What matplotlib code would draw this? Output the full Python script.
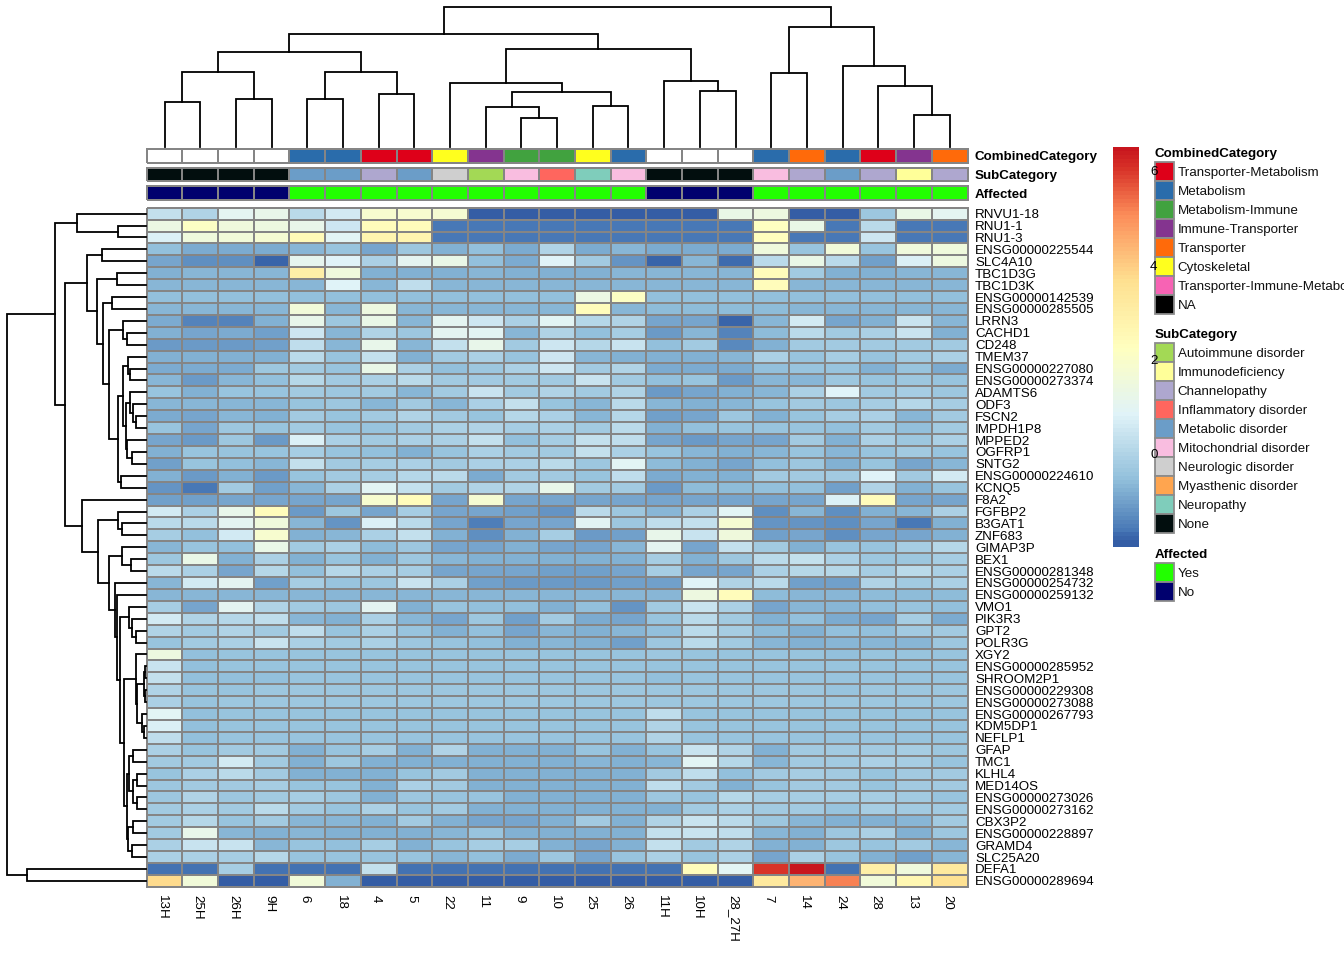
#!/usr/bin/env python

import numpy as np
import matplotlib
matplotlib.use("Agg")
import matplotlib.pyplot as plt
from matplotlib.colors import LinearSegmentedColormap, ListedColormap, Normalize
from matplotlib.patches import Rectangle

plt.rcParams["font.family"] = ["Liberation Sans", "DejaVu Sans"]

col_labels = ["13H", "25H", "26H", "9H", "6", "18", "4", "5", "22", "11", "9", "10",
              "25", "26", "11H", "10H", "28_27H", "7", "14", "24", "28", "13", "20"]

row_labels = ["RNVU1-18", "RNU1-1", "RNU1-3", "ENSG00000225544", "SLC4A10", "TBC1D3G", "TBC1D3K",
              "ENSG00000142539", "ENSG00000285505", "LRRN3", "CACHD1", "CD248", "TMEM37",
              "ENSG00000227080", "ENSG00000273374", "ADAMTS6", "ODF3", "FSCN2", "IMPDH1P8", "MPPED2",
              "OGFRP1", "SNTG2", "ENSG00000224610", "KCNQ5", "F8A2", "FGFBP2", "B3GAT1", "ZNF683",
              "GIMAP3P", "BEX1", "ENSG00000281348", "ENSG00000254732", "ENSG00000259132", "VMO1",
              "PIK3R3", "GPT2", "POLR3G", "XGY2", "ENSG00000285952", "SHROOM2P1", "ENSG00000229308",
              "ENSG00000273088", "ENSG00000267793", "KDM5DP1", "NEFLP1", "GFAP", "TMC1", "KLHL4",
              "MED14OS", "ENSG00000273026", "ENSG00000273162", "CBX3P2", "ENSG00000228897", "GRAMD4",
              "SLC25A20", "DEFA1", "ENSG00000289694"]

# z scores, one row per gene
expr = [
    [.3, 0, 1, 1.2, .15, .6, 1.9, 1.9, 1.8, -1.95, -1.95, -1.95, -1.95, -1.95, -1.95, -1.95, 1.3, 1.4, -1.95, -1.95, -.35, 1.3, 1],
    [1.35, 2.1, 1.55, 1.4, 1.2, .5, 2.4, 2.4, -1.65, -1.65, -1.65, -1.65, -1.65, -1.65, -1.65, -1.65, -1.65, 2.2, 1.3, -1.65, .2, -1.65, -1.65],
    [.8, 1.5, 1.6, 1.75, 2.5, .9, 2.7, 2.7, -1.6, -1.6, -1.6, -1.6, -1.6, -1.6, -1.6, -1.6, -1.6, 2.3, -1.6, -1.6, .5, -1.6, -1.6],
    [-.55, -.85, -.85, -.85, -.65, -.45, -.9, -.35, -.8, -.5, -.85, 0, -.85, -.7, -.85, -.85, -.85, 1.5, -.45, 1.6, -.4, 1.5, 1.5],
    [-.95, -1.3, -1.3, -1.9, 1.1, .85, -.1, 1, 1.3, -.5, -.85, .85, -.25, -1.2, -1.85, -.7, -1.8, .2, 1.25, .2, -1, .8, 1.45],
    [-.75, -.72, -.72, -.72, 3, 1.5, -.75, -.75, -.75, -.72, -.75, -.75, -.75, -.72, -.72, -.72, -.72, 2.35, -.25, -.75, -.75, -.72, -.72],
    [-.65, -.65, -.65, -.65, -.65, .85, -.7, .25, -.65, -.65, -.65, -.65, -.65, -.65, -.65, -.65, -.65, 2.35, -.65, -.65, -.65, -.65, -.65],
    [-.55, -.55, -.55, -.55, -.55, -.55, -.55, -.55, -.55, -.55, -.55, -.55, 1.35, 2.15, -.55, -.55, -.55, -.55, -.55, -.55, -.55, -.55, -.55],
    [-.65, -.65, -.65, -.65, 1.65, -.65, 1.4, -.65, -.65, -.65, -.65, -.65, 2.35, -.65, -.6, -.6, -.6, -.6, -.65, -.65, -.65, -.65, -.65],
    [-.85, -1.45, -1.45, -.8, 1.2, -.35, 1.3, -.72, 1.05, .5, -.1, .95, .05, -.03, -.9, -.9, -1.85, -.72, .6, -.9, -.75, .45, -.65],
    [-.8, -.9, -.82, -1, .5, -.72, 0, -.35, 1, .95, -.65, -.03, -.55, -.15, -1.1, -.72, -1.45, -.6, .2, -.25, -.1, .45, -.75],
    [-1.1, -1.15, -1.1, -1, .25, -.65, 1.15, -.72, .3, 1.15, -.3, .5, .1, .4, -.55, -.3, -1.35, -.8, -.25, -.25, -.22, -.3, -.3],
    [-.8, -.8, -.75, -.75, .2, -.45, .35, -.75, -.3, -.1, -.45, .5, -.72, -.75, -.75, -.75, -.72, -.1, -.45, -.2, -.45, -.22, -.1],
    [-.82, -.85, -.85, -.35, -.25, -.45, 1.25, -.05, -.55, -.35, -.1, .5, -.3, -.02, -.85, -.85, -.85, -.55, -.45, -.45, -.75, -.45, -.85],
    [-.72, -1.15, -.65, -.55, .05, -.3, -.05, .2, -.25, -.25, -.25, -.22, .4, -.22, -.55, -.4, -1.15, -.65, -.7, -.35, -.45, -.35, -.45],
    [-.42, -.8, -.42, -.4, -.3, -.35, -.28, -.65, -.28, .4, -.25, 0, -.3, 0, -1.1, -.95, -.8, -.65, -.1, .85, -.25, -.18, -.35],
    [-.65, -.65, -.65, -.65, -.45, -.35, -.65, -.22, -.65, -.1, .3, -.45, -.65, .2, -.65, -.8, -.65, -.4, -.3, -.35, -.15, .1, -.2],
    [-.82, -.9, -.65, -.75, -.22, -.45, -.22, 0, -.22, -.4, .1, -.1, -.65, .12, -1.05, -.9, -.35, -.75, -.45, -.2, -.1, -.7, -.3],
    [-.45, -.9, -.35, -.45, -.3, -.45, -.45, -.3, -.05, 0, -.15, -.08, -.22, .18, -.8, -.55, -.4, -.45, -.45, -.5, -.25, -.55, -.3],
    [-.9, -1.15, -.35, -1.15, .8, -.1, -.3, -.05, -.05, .35, -.55, -.2, .3, .28, -.9, -1.15, -.95, -.9, -.22, -.75, -.1, -.35, -.1],
    [-.8, -.45, -.45, -.45, -.15, -.45, -.55, -.75, -.45, -.08, -.22, -.22, .32, -.05, -.45, -.7, -.75, -.65, -.45, -.7, -.45, -.22, -.45],
    [-1, -.45, -.55, -.65, .3, -.3, -.15, -.05, -.3, -.05, -.05, .2, -.35, .9, -.6, -.75, -.9, -.55, -.35, -.75, -.45, -.9, -.65],
    [-.75, -1.15, -.75, -1.15, -.4, -.25, -.15, .1, .15, -.82, -.25, -.25, -.45, .25, -.82, -.75, -.75, -.28, -.28, -.25, .85, -.22, .55],
    [-1.2, -1.65, -.28, -1.05, -.65, -.05, .9, .3, -.22, 0, 0, 1.2, -.28, -.25, -1.15, -.6, -.6, -.55, -.55, -1.05, 0, -.8, -.4],
    [-1, -1, -.95, -.95, -.95, -.95, 1.9, 2.35, -.95, 1.75, -.95, -.9, -.9, -.9, -.9, -.9, -.9, -.9, -.9, .8, 2.35, -.9, -.9],
    [.6, -.05, 1.2, 2.35, -1.15, -.35, -.95, -.15, -.9, -.9, -1.05, -1.2, .2, -.35, -.65, -.08, .9, -1.25, -.7, -1.25, -.75, -.65, -.05],
    [.2, .2, 1, 1.5, -.7, -1.2, .8, .15, -.9, -1.55, -.95, -.95, .95, -.35, .25, .3, 1.75, -1.2, -1.2, -1.3, -.95, -1.65, -.75],
    [-.15, -.55, .6, 1.9, -.75, -.65, -.05, .3, -.75, -1.3, -.8, -.15, -1.15, -1, 1.15, .4, 1.5, -1.05, -.95, -1.25, -.9, -.95, -.75],
    [-.65, -.45, -.55, 1.3, -.3, -.05, -.6, -.35, -.9, -.9, -.8, -.9, -.9, -.65, 1, -.9, .3, -.3, -.75, -.45, -.45, -.15, .05],
    [-.35, 1.25, -.75, -.1, -.75, -.45, -.75, -.35, -.65, -.75, -.75, -.75, -.75, -.75, -.15, -.75, -.35, .2, .3, -.05, -.35, -.35, -.15],
    [.2, -.05, -.95, .1, -.5, .1, -.1, -.2, -.95, -.95, -.95, -1, -1, -.95, -.15, -.95, -.9, -.05, .1, .05, -.15, .2, -.05],
    [-.65, .6, 1, -1.05, -.2, -.4, -.35, .4, -.1, -1.05, -1.15, -1.15, -1.15, -1.05, -1.05, .85, 0, .15, -1.05, -1.05, 0, -.3, -.05],
    [-.72, -.72, -.72, -.72, -.72, -.72, -.72, -.72, -.72, -.65, -.65, -.65, -.65, -.65, -.65, 1.4, 2.35, -.6, -.65, -.65, -.6, -.6, -.6],
    [-.15, -.9, 1.05, 0, -.3, -.35, 1, -.75, -.45, -.5, -.5, -.75, -.55, -1.2, -.22, .4, -.05, -.9, -.7, -.7, -.5, -.4, -.5],
    [.6, 0, .05, .25, -.7, -.75, -.05, -.7, -.95, -.35, -1.05, -.28, -.82, -.9, -.4, .15, -.3, -.8, -.55, -.82, -.95, -.15, -.82],
    [0, -.25, 0, -.3, .22, -.45, -.05, -.45, -.8, -.5, -.9, -.7, -.75, -.7, -.55, .2, -.15, -.6, -.75, -.55, -.55, -.28, -.28],
    [-.45, -.3, -.08, .4, -.05, -.22, -.1, -.35, -.45, -.5, -.75, -.65, -.75, -1, -.35, .2, -.22, -.65, -.8, -.65, -.65, -.65, -.35],
    [1.45, -.5, -.45, -.45, -.45, -.45, -.45, -.45, -.45, -.45, -.45, -.45, -.45, -.45, -.35, -.45, -.45, -.45, -.45, -.5, -.45, -.45, -.45],
    [.45, -.5, -.45, -.4, -.4, -.4, -.45, -.4, -.4, -.4, -.4, -.4, -.4, -.4, -.45, -.45, -.45, -.45, -.4, -.45, -.4, -.4, -.4],
    [.32, -.55, -.5, -.5, -.45, -.45, -.45, -.45, -.45, -.45, -.45, -.45, -.45, -.45, -.5, -.45, -.45, -.45, -.45, -.45, -.45, -.45, -.45],
    [-.03, -.42, -.42, -.38, -.38, -.38, -.38, -.38, -.38, -.38, -.38, -.38, -.38, -.38, -.38, -.38, -.38, -.38, -.38, -.42, -.38, -.38, -.38],
    [-.05, -.42, -.38, -.35, -.35, -.35, -.35, -.35, -.35, -.35, -.35, -.35, -.35, -.35, -.35, -.35, -.35, -.35, -.35, -.38, -.35, -.35, -.35],
    [.9, -.5, -.42, -.42, -.42, -.42, -.42, -.42, -.42, -.42, -.42, -.42, -.42, -.42, .22, -.42, -.42, -.42, -.42, -.42, -.42, -.42, -.42],
    [.8, -.52, -.45, -.45, -.45, -.45, -.45, -.45, -.45, -.45, -.45, -.45, -.45, -.45, .02, -.45, -.45, -.45, -.45, -.45, -.45, -.45, -.45],
    [.22, -.52, -.45, -.45, -.45, -.45, -.45, -.45, -.45, -.45, -.45, -.45, -.45, -.45, 0, -.45, -.45, -.45, -.45, -.45, -.45, -.45, -.45],
    [-.1, -.4, -.25, -.25, -.75, -.45, -.15, -.75, 0, -.75, -.75, -.75, -.45, -.75, -.45, .4, 0, -.75, -.22, -.3, -.22, -.15, -.35],
    [-.25, -.22, .6, -.22, -.75, -.35, -.75, -.75, -.75, -.75, -.75, -.75, -.65, -.75, -.65, .9, .05, -.65, -.25, -.25, -.05, -.15, -.45],
    [-.45, -.05, .2, -.28, -.75, -.75, -.75, -.45, -.3, -.75, -.75, -.75, -.75, -.75, -.25, .25, -.5, -.22, -.15, -.25, -.45, -.25, -.25],
    [-.35, -.25, -.22, -.15, -.45, -.45, -.75, -.08, -.25, -.75, -.75, -.75, -.75, -.75, .25, -.28, -.75, -.45, -.28, -.28, -.45, -.25, -.25],
    [-.35, 0, -.35, -.22, -.15, -.35, -.75, -.35, -.45, -.45, -.75, -.75, -.75, -.75, -.35, -.45, .05, -.15, -.15, -.15, -.15, -.22, -.45],
    [-.22, -.05, -.3, .2, -.22, -.45, -.08, -.45, -.3, -.75, -.75, -.75, -.75, -.75, -.75, -.22, -.05, -.28, -.22, -.45, -.15, -.22, -.22],
    [-.28, .05, -.45, -.28, -.65, -.65, -.75, -.28, -.75, -.9, -.9, -.75, -.28, -.75, 0, .4, .15, -.35, -.65, -.75, -.75, -.65, -.3],
    [-.25, 1.15, -.65, -.75, -.65, -.75, -.75, -.75, -.65, -.45, -.75, -.75, -.75, -.75, .35, .4, .25, -.65, -.75, -.35, -.08, -.75, -.35],
    [-.1, .4, .45, -.65, -.45, -.55, -.15, -.75, -.4, -.15, -.15, -.75, -.95, -.75, .35, -.3, 0, -.75, -.75, -.35, -.45, -.3, -.7],
    [-.05, -.05, -.15, .1, -.4, -.45, -.45, -.45, -.7, -.5, -.82, -.35, -.95, -.45, -.05, -.45, -.05, -.9, -.1, -.45, -.75, -1, -.7],
    [-1.7, -1.7, -.15, -1.7, -1.7, -1.7, .32, -1.7, -1.7, -1.7, -1.7, -1.7, -1.7, -1.7, -1.7, 2.4, .95, 6, 6.5, -1.7, 3, 1.5, 3.2],
    [3.7, 1.65, -1.95, -1.95, 1.65, -.75, -1.95, -1.95, -1.95, -1.95, -1.95, -1.95, -1.95, -1.95, -1.95, -1.95, -1.95, 3.2, 4.4, 5.2, 1.65, 2.6, 3.6],
]

combined_names = ["Transporter-Metabolism", "Metabolism", "Metabolism-Immune", "Immune-Transporter",
                  "Transporter", "Cytoskeletal", "Transporter-Immune-Metabolism", "NA"]
combined_colors = ["#DE0019", "#2A6CAB", "#41A23F", "#84348F", "#FF6A0A", "#FFFF1E", "#F763B4", "#000000"]
# NA samples are left white in the annotation strip
combined_values = ["", "", "", "", "Metabolism", "Metabolism", "Transporter-Metabolism", "Transporter-Metabolism",
                   "Cytoskeletal", "Immune-Transporter", "Metabolism-Immune", "Metabolism-Immune", "Cytoskeletal",
                   "Metabolism", "", "", "", "Metabolism", "Transporter", "Metabolism", "Transporter-Metabolism",
                   "Immune-Transporter", "Transporter"]

sub_names = ["Autoimmune disorder", "Immunodeficiency", "Channelopathy", "Inflammatory disorder", "Metabolic disorder",
             "Mitochondrial disorder", "Neurologic disorder", "Myasthenic disorder", "Neuropathy", "None"]
sub_colors = ["#A3D955", "#FFFF99", "#AEA7CF", "#FF665E", "#6B9DC8", "#F9BDE0", "#CFCFCF", "#FFA54F", "#7FCDBB", "#020E0E"]
sub_values = ["None", "None", "None", "None", "Metabolic disorder", "Metabolic disorder", "Channelopathy",
              "Metabolic disorder", "Neurologic disorder", "Autoimmune disorder", "Mitochondrial disorder",
              "Inflammatory disorder", "Neuropathy", "Mitochondrial disorder", "None", "None", "None",
              "Mitochondrial disorder", "Channelopathy", "Metabolic disorder", "Channelopathy", "Immunodeficiency",
              "Channelopathy"]

affected_names = ["Yes", "No"]
affected_colors = ["#22FF00", "#00006E"]
affected_values = ["No", "No", "No", "No", "Yes", "Yes", "Yes", "Yes", "Yes", "Yes", "Yes", "Yes", "Yes", "Yes",
                   "No", "No", "No", "Yes", "Yes", "Yes", "Yes", "Yes", "Yes"]

# dendrograms: (left, right, height), negative number = earlier merge, 1 based
col_merges = [(0, 1, 45), (2, 3, 47.4), (-1, -2, 74.4), (4, 5, 47.7), (6, 7, 53), (-4, -5, 74.7), (-3, -6, 95),
              (10, 11, 29), (9, -8, 39.4), (12, 13, 40.7), (-9, -10, 54.7), (8, -11, 63.4), (15, 16, 55.7),
              (14, -13, 65.7), (-12, -14, 98), (-7, -15, 112.7), (17, 18, 73.4), (21, 22, 31.4), (20, -18, 61),
              (19, -19, 81), (-17, -20, 119.7), (-16, -21, 140)]

row_merges = [(1, 2, 28.3), (0, -1, 68.7), (3, 4, 43.7), (5, 6, 28.7), (7, 8, 34.3), (10, 11, 19), (9, -6, 22.7),
              (13, 14, 15.7), (12, -8, 18), (17, 18, 10), (16, -10, 12.7), (15, -11, 16), (20, 21, 14), (19, -13, 19.5),
              (-12, -14, 20.5), (-9, -15, 23.3), (22, 23, 25.3), (-16, -17, 27.7), (-7, -18, 36.7), (-5, -19, 42.7),
              (-4, -20, 49.3), (-3, -21, 58.7), (26, 27, 24.3), (25, -23, 27.7), (29, 30, 15), (28, -25, 24.3),
              (35, 36, 10), (34, -27, 13.7), (33, -28, 16.7), (38, 39, 1), (40, 41, 1), (-30, -31, 2), (43, 44, 2),
              (42, -33, 4.3), (-32, -34, 8.7), (37, -35, 10.3), (45, 46, 12.7), (47, 48, 8.7), (49, 50, 9.3),
              (-38, -39, 12.7), (-37, -40, 16.7), (51, 52, 12.7), (53, 54, 14.3), (-42, -43, 18.3), (-41, -44, 19),
              (-36, -45, 21.7), (-29, -46, 25.7), (32, -47, 29.3), (31, -48, 31), (-26, -49, 36.7), (-24, -50, 48.3),
              (24, -51, 64.3), (-22, -52, 81), (-2, -53, 90.7), (55, 56, 119.3), (-54, -55, 139.3)]

W, H = 1344, 960
GRID = "#858585"
TEXT = 9.6

fig = plt.figure(figsize=(W / 100, H / 100), dpi=100, facecolor="white")


# axes from pixel box, y counted from the top like in the reference
def pixel_axes(x0, y0, x1, y1):
    ax = fig.add_axes([x0 / W, 1 - y1 / H, (x1 - x0) / W, (y1 - y0) / H])
    ax.set_axis_off()
    return ax


# walk the merges and give back the line segments
def tree_segments(merges):
    spots = {}
    segs = []
    for i, (a, b, h) in enumerate(merges):
        pa, ha = spots[a] if a < 0 else (a + 0.5, 0)
        pb, hb = spots[b] if b < 0 else (b + 0.5, 0)
        segs.append(([pa, pa, pb, pb], [ha, h, h, hb]))
        spots[-(i + 1)] = ((pa + pb) / 2, h)
    return segs


x_left, x_right = 146.7, 967.5
y_top, y_bottom = 207.7, 886.8
n_rows, n_cols = len(row_labels), len(col_labels)
cell_w = (x_right - x_left) / n_cols
cell_h = (y_bottom - y_top) / n_rows

colors_rdylbu = [(-2.0, "#345DA5"), (-1.7, "#4575B4"), (-0.58, "#91BFDB"), (0.83, "#E0F3F8"), (2.25, "#FFFFBF"),
                 (3.67, "#FEE090"), (5.08, "#FC8D59"), (6.1, "#D73027"), (6.5, "#C8161E")]
vmin, vmax = -2.0, 6.5
heat_cmap = LinearSegmentedColormap.from_list(
    "heat", [((v - vmin) / (vmax - vmin), c) for v, c in colors_rdylbu], N=100)
heat_norm = Normalize(vmin, vmax)

# main heatmap
ax = pixel_axes(x_left, y_top, x_right, y_bottom)
ax.pcolormesh(np.array(expr), cmap=heat_cmap, norm=heat_norm, edgecolors=GRID, linewidth=1.15, clip_on=False)
ax.set_xlim(0, n_cols)
ax.set_ylim(n_rows, 0)
for i, name in enumerate(row_labels):
    ax.text(n_cols + 7.5 / cell_w, i + 0.5, name, fontsize=TEXT, va="center_baseline", ha="left", clip_on=False)
for i, name in enumerate(col_labels):
    ax.text(i + 0.5 - 2.5 / cell_w, n_rows + 8 / cell_h, name, fontsize=TEXT,
            rotation=270, va="top", ha="center", clip_on=False)

# annotation strips
strips = [("CombinedCategory", combined_values, combined_names, combined_colors, 149, 162.5),
          ("SubCategory", sub_values, sub_names, sub_colors, 167.7, 181.2),
          ("Affected", affected_values, affected_names, affected_colors, 186.3, 200)]
for title, values, names, colors, y0, y1 in strips:
    ax = pixel_axes(x_left, y0, x_right, y1)
    idx = [names.index(v) if v in names else len(names) for v in values]
    cmap = ListedColormap(colors + ["#FFFFFF"])
    ax.pcolormesh(np.array([idx]), cmap=cmap, vmin=-0.5, vmax=len(names) + 0.5, edgecolors=GRID,
                  linewidth=1.15, clip_on=False)
    ax.text(1.0 + 7 / (x_right - x_left), 0.5, title, transform=ax.transAxes, fontsize=TEXT, fontweight="bold",
            va="center_baseline", ha="left", clip_on=False)

# top dendrogram
ax = pixel_axes(x_left, 0, x_right, 146.7)
for xs, ys in tree_segments(col_merges):
    ax.plot(xs, ys, color="black", lw=1.3, solid_capstyle="projecting", solid_joinstyle="miter", clip_on=False)
ax.set_xlim(0, n_cols)
ax.set_ylim(0, 146.7)

# left dendrogram
ax = pixel_axes(0, y_top, 146, y_bottom)
for ys, xs in tree_segments(row_merges):
    ax.plot(xs, ys, color="black", lw=1.3, solid_capstyle="projecting", solid_joinstyle="miter", clip_on=False)
ax.set_xlim(146, 0)
ax.set_ylim(n_rows, 0)

# legends
legend_blocks = [("CombinedCategory", combined_names, combined_colors, 153, 161.5),
                 ("SubCategory", sub_names, sub_colors, 333.5, 342.5),
                 ("Affected", affected_names, affected_colors, 553.5, 562.5)]
ax = pixel_axes(0, 0, W, H)
ax.set_xlim(0, W)
ax.set_ylim(H, 0)
for title, names, colors, y_title, y_first in legend_blocks:
    ax.text(1154.5, y_title, title, fontsize=TEXT, fontweight="bold", va="center_baseline", ha="left")
    for i, (name, c) in enumerate(zip(names, colors)):
        ax.add_patch(Rectangle((1155, y_first + 19 * i), 18.5, 19, facecolor=c, edgecolor="#8C8C8C", lw=1.3))
        ax.text(1177.5, y_first + 19 * i + 9.7, name, fontsize=TEXT, va="center_baseline", ha="left", color="#111111")

# colour bar, drawn last so its tick numbers sit on the swatches
ax = fig.add_axes([1113 / W, 1 - 546.8 / H, 26 / W, 399.8 / H])
levels = np.linspace(vmin, vmax, 101)
ax.pcolormesh([0, 1], levels, levels[:-1].reshape(-1, 1), cmap=heat_cmap, norm=heat_norm, rasterized=True)
ax.set_xticks([])
ax.set_yticks([0, 2, 4, 6])
ax.set_ylim(vmin + 0.03, vmax)
ax.yaxis.tick_right()
ax.tick_params(axis="y", length=0, pad=8, labelsize=TEXT)
for side in ax.spines.values():
    side.set_visible(False)

fig.savefig("out.png", dpi=100)
